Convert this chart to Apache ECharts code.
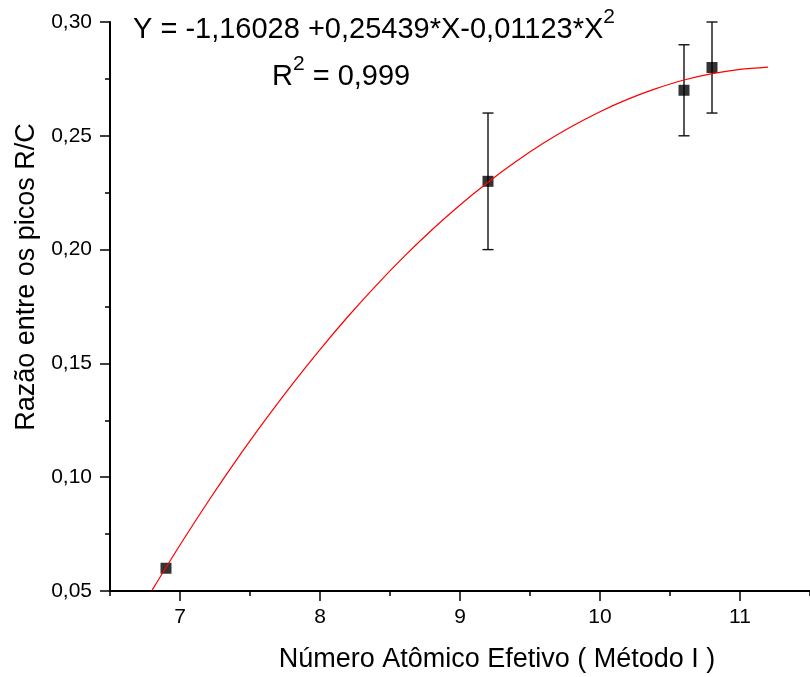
<!DOCTYPE html>
<html>
<head>
<meta charset="utf-8">
<script src="https://cdn.jsdelivr.net/npm/echarts@6/dist/echarts.min.js"></script>
<style>
html,body{margin:0;padding:0;background:#fff;}
#chart{width:810px;height:677px;}
</style>
</head>
<body>
<div id="chart"></div>
<script>
// Fitted curve values
const curveX = [6.8, 7.0, 7.2, 7.4, 7.6, 7.8, 8.0, 8.2, 8.4, 8.6, 8.8, 9.0, 9.2, 9.4, 9.6, 9.8, 10.0, 10.2, 10.4, 10.6, 10.8, 11.0, 11.2];
const curveY = [0.0503, 0.0702, 0.0892, 0.1073, 0.1244, 0.1407, 0.1561, 0.1706, 0.1842, 0.1969, 0.2087, 0.2196, 0.2296, 0.2387, 0.2469, 0.2542, 0.2606, 0.2661, 0.2707, 0.2745, 0.2773, 0.2792, 0.2802];

// Measured points
const pointX = [6.9, 9.2, 10.6, 10.8];
const pointY = [0.06, 0.23, 0.27, 0.28];

// Error bars
const errX = [9.2, 10.6, 10.8];
const errLow = [0.20, 0.25, 0.26];
const errHigh = [0.26, 0.29, 0.30];

// Axis ticks
const xMajorTicks = [7, 8, 9, 10, 11];

const FONT = '"Liberation Sans", Arial, sans-serif';

const chart = echarts.init(document.getElementById('chart'), null, {renderer: 'canvas'});

const curveData = curveX.map((x, i) => [x, curveY[i]]);
const pointData = pointX.map((x, i) => [x, pointY[i]]);
const errData = errX.map((x, i) => [x, errLow[i], errHigh[i]]);

const option = {
  backgroundColor: '#ffffff',
  animation: false,
  grid: {left: 110, top: 22, right: -7.5, bottom: 86, containLabel: false},
  xAxis: [
    {
      type: 'value', min: 6.5, max: 11.5, interval: 0.5,
      axisLine: {show: true, onZero: false, lineStyle: {color: '#000', width: 2}},
      axisTick: {show: true, length: 5, lineStyle: {color: '#000', width: 1.5}},
      axisLabel: {
        show: true, customValues: xMajorTicks, margin: 16,
        color: '#000', fontSize: 21, fontFamily: FONT,
        formatter: v => String(v)
      },
      splitLine: {show: false}
    },
    {
      type: 'value', min: 6.5, max: 11.5, interval: 0.5, position: 'bottom', gridIndex: 0,
      axisLine: {show: false, onZero: false},
      axisTick: {show: true, customValues: xMajorTicks, length: 10, lineStyle: {color: '#000', width: 1.5}},
      axisLabel: {show: false},
      splitLine: {show: false}
    }
  ],
  yAxis: {
    type: 'value', min: 0.05, max: 0.30, interval: 0.05,
    axisLine: {show: true, onZero: false, lineStyle: {color: '#000', width: 2}},
    axisTick: {show: true, length: 10, lineStyle: {color: '#000', width: 1.5}},
    minorTick: {show: true, splitNumber: 2, length: 5, lineStyle: {color: '#000', width: 1.5}},
    axisLabel: {
      margin: 18, color: '#000', fontSize: 21, fontFamily: FONT,
      formatter: v => v.toFixed(2).replace('.', ',')
    },
    splitLine: {show: false}
  },
  series: [
    {
      type: 'custom',
      name: 'erro',
      z: 2,
      renderItem: function (params, api) {
        const x = api.value(0);
        const lo = api.coord([x, api.value(1)]);
        const hi = api.coord([x, api.value(2)]);
        const cap = 5.5;
        const st = {stroke: '#111', lineWidth: 1.4};
        return {
          type: 'group',
          children: [
            {type: 'line', shape: {x1: lo[0], y1: lo[1], x2: hi[0], y2: hi[1]}, style: st},
            {type: 'line', shape: {x1: lo[0] - cap, y1: lo[1], x2: lo[0] + cap, y2: lo[1]}, style: st},
            {type: 'line', shape: {x1: hi[0] - cap, y1: hi[1], x2: hi[0] + cap, y2: hi[1]}, style: st}
          ]
        };
      },
      encode: {x: 0, y: [1, 2]},
      data: errData
    },
    {
      type: 'scatter',
      name: 'pontos',
      z: 3,
      symbol: 'rect',
      symbolSize: 11,
      itemStyle: {color: '#000'},
      data: pointData
    },
    {
      type: 'line',
      name: 'ajuste',
      z: 4,
      smooth: 0.3,
      showSymbol: false,
      symbol: 'none',
      lineStyle: {color: '#ff0000', width: 1.2},
      data: curveData
    }
  ],
  graphic: [
    {
      type: 'text',
      style: {
        x: 133, y: 30,
        text: 'Y = -1,16028 +0,25439*X-0,01123*X{s|2}',
        fill: '#000',
        font: '29px ' + FONT,
        lineHeight: 46,
        verticalAlign: 'middle',
        rich: {
          s: {fontSize: 21, fontFamily: FONT, lineHeight: 21, verticalAlign: 'top', fill: '#000'}
        }
      }
    },
    {
      type: 'text',
      style: {
        x: 272, y: 77,
        text: 'R{s|2} = 0,999',
        fill: '#000',
        font: '29px ' + FONT,
        lineHeight: 46,
        verticalAlign: 'middle',
        rich: {
          s: {fontSize: 21, fontFamily: FONT, lineHeight: 21, verticalAlign: 'top', fill: '#000'}
        }
      }
    },
    {
      type: 'text',
      style: {
        x: 497, y: 660,
        text: 'Número Atômico Efetivo ( Método I )',
        fill: '#000',
        font: '27px ' + FONT,
        align: 'center',
        verticalAlign: 'middle'
      }
    },
    {
      type: 'text',
      x: 27, y: 277,
      rotation: Math.PI / 2,
      style: {
        x: 0, y: 0,
        text: 'Razão entre os picos R/C',
        fill: '#000',
        font: '27px ' + FONT,
        align: 'center',
        verticalAlign: 'middle'
      }
    }
  ]
};

chart.setOption(option);
</script>
</body>
</html>
